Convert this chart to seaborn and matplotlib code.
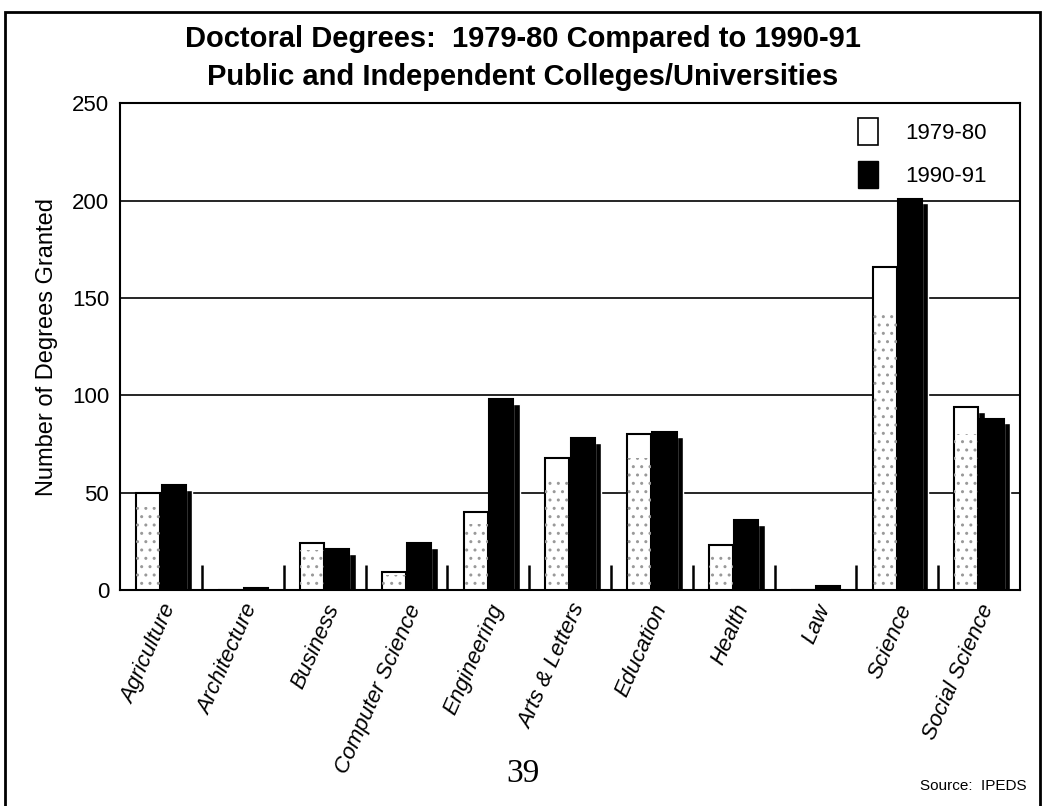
import pandas as pd
import matplotlib.pyplot as plt
import matplotlib.patches as mpatches
import seaborn as sns

# Data
fields = ['Agriculture', 'Architecture', 'Business', 'Computer Science', 'Engineering',
          'Arts & Letters', 'Education', 'Health', 'Law', 'Science', 'Social Science']
deg_1979 = [50, 0, 24, 9, 40, 68, 80, 23, 0, 166, 94]
deg_1990 = [54, 1, 21, 24, 98, 78, 81, 36, 2, 201, 88]
years = ['1979-80', '1990-91']
y_ticks = [0, 50, 100, 150, 200, 250]

df = pd.DataFrame({
    'field': fields * 2,
    'year': [years[0]] * len(fields) + [years[1]] * len(fields),
    'degrees': deg_1979 + deg_1990,
})

sns.set_style('white')
plt.rcParams['font.family'] = ['Liberation Sans Narrow', 'Liberation Sans', 'DejaVu Sans']
plt.rcParams.update({'text.color': 'black', 'axes.labelcolor': 'black',
                     'xtick.color': 'black', 'ytick.color': 'black'})

fig = plt.figure(figsize=(10.45, 8.06), dpi=100)
ax = fig.add_axes([0.115, 0.268, 0.861, 0.604])

sns.barplot(data=df, x='field', y='degrees', hue='year', order=fields, hue_order=years,
            palette={'1979-80': 'white', '1990-91': 'black'}, edgecolor='black',
            linewidth=1.5, width=0.62, gap=0.05, legend=False, ax=ax, zorder=3)

bars = list(ax.patches)
for p in bars:
    h = p.get_height()
    # fake 3D side face on each bar
    if h > 2:
        ax.bar(p.get_x() + p.get_width(), h - 2.5, width=0.08, bottom=0, align='edge',
               color='black', zorder=2.5)
    # grey speckle on the light bars
    if p.get_facecolor()[0] > 0.5 and h > 2:
        ax.bar(p.get_x(), h * 0.85, width=p.get_width(), align='edge', facecolor='none',
               edgecolor='0.6', linewidth=0, hatch='..', zorder=3.1)

# little separators between groups
ax.vlines([i + 0.5 for i in range(len(fields) - 1)], 0, 13, color='black', lw=1.8, zorder=4)

ax.set_ylim(0, 250)
ax.set_xlim(-0.5, len(fields) - 0.5)
ax.set_yticks(y_ticks)
ax.yaxis.grid(True, color='black', lw=1.2)
ax.set_axisbelow(True)
for s in ax.spines.values():
    s.set_color('black')
    s.set_linewidth(1.5)
ax.tick_params(length=0, labelsize=16, pad=8)
ax.set_xticks(range(len(fields)))
ax.set_xticklabels(fields, rotation=66, ha='right', rotation_mode='anchor',
                   fontstyle='italic', fontsize=16)
ax.set_xlabel('')
ax.set_ylabel('Number of Degrees Granted', fontsize=17, labelpad=10)

handles = [mpatches.Patch(facecolor='white', edgecolor='black', lw=1.2, label=years[0]),
           mpatches.Patch(facecolor='black', edgecolor='black', label=years[1])]
ax.legend(handles=handles, loc='upper right', frameon=False, fontsize=16,
          handlelength=0.9, handleheight=1.5, handletextpad=1.2, labelspacing=0.7,
          bbox_to_anchor=(0.985, 1.01))

fig.text(0.5, 0.952, 'Doctoral Degrees:  1979-80 Compared to 1990-91',
         ha='center', va='center', fontsize=21, fontweight='bold')
fig.text(0.5, 0.905, 'Public and Independent Colleges/Universities',
         ha='center', va='center', fontsize=21, fontweight='bold')
fig.text(0.5, 0.04, '39', ha='center', va='center', fontsize=24,
         family=['Liberation Serif', 'DejaVu Serif'])
fig.text(0.982, 0.025, 'Source:  IPEDS', ha='right', va='center', fontsize=11)

# outer frame of the scanned page
fig.add_artist(mpatches.Rectangle((0.005, -0.01), 0.99, 0.995, transform=fig.transFigure,
                                  fill=False, edgecolor='black', lw=2))

fig.savefig('out.png', dpi=100, facecolor='white')
